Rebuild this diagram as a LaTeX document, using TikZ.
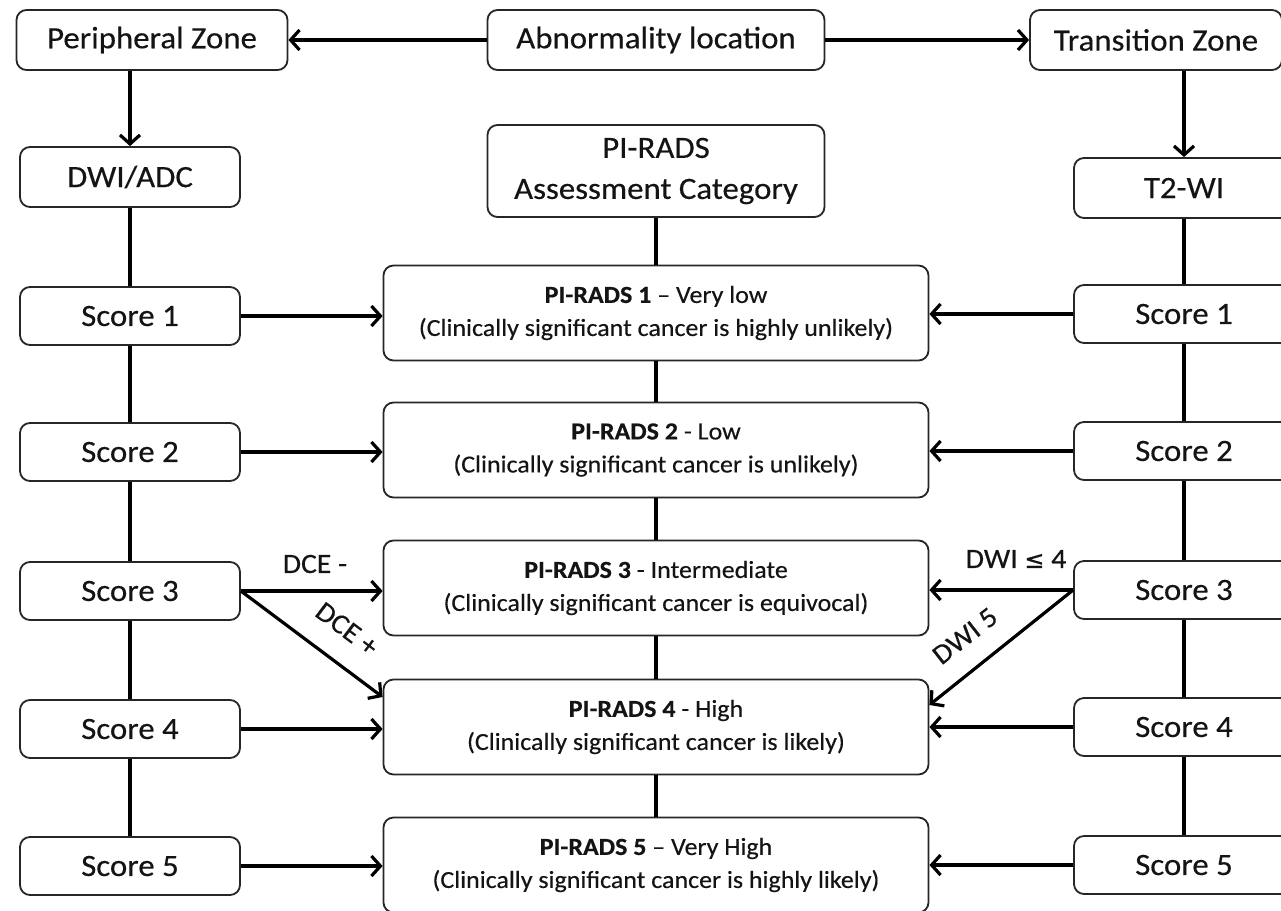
\documentclass[tikz,border=0pt]{standalone}
\usepackage{fontspec}
\setmainfont[FakeStretch=1.06,FakeBold=0.35]{Carlito}
\newfontfamily\symf[FakeBold=0.35]{DejaVu Sans}
\usetikzlibrary{arrows.meta}
\begin{document}
\begin{tikzpicture}[x=1pt,y=-1pt,
  box/.style={draw=black!85, line width=1.8pt, rounded corners=10pt, fill=white,
    inner sep=0pt, align=center, text=black!92},
  big/.style={font=\fontsize{31}{41}\selectfont},
  zone/.style={box, big, minimum height=60pt},
  score/.style={box, big, minimum width=220pt, minimum height=58pt},
  pr/.style={box, minimum width=545pt, minimum height=95pt, font=\fontsize{24.5}{33}\selectfont},
  conn/.style={line width=3.2pt, black},
  arr/.style={conn, -{Straight Barb[length=9pt,width=20pt]}},
  lbl/.style={inner sep=0pt, font=\fontsize{28}{30}\selectfont, text=black!92}]
\useasboundingbox (0,0) rectangle (1281,910);
\clip (0,0) rectangle (1281,910);
\fill[white] (0,0) rectangle (1281,910);

% top row
\node[zone, minimum width=271pt] (pz)  at (152,40)  {Peripheral Zone};
\node[zone, minimum width=337pt] (abn) at (656,40)  {Abnormality location};
\node[zone, minimum width=252pt] (tz)  at (1156,40) {Transition Zone};

% second row
\node[zone, minimum width=220pt] (dwi) at (130,177) {DWI/ADC};
\node[box, big, minimum width=337pt, minimum height=92pt] (cat) at (656,171) {PI-RADS\\Assessment Category};
\node[zone, minimum width=220pt] (t2) at (1184,188) {T2-WI};

% scores left
\node[score] (s1L) at (130,316) {Score 1};
\node[score] (s2L) at (130,452) {Score 2};
\node[score] (s3L) at (130,591) {Score 3};
\node[score] (s4L) at (130,729) {Score 4};
\node[score] (s5L) at (130,866) {Score 5};

% scores right
\node[score] (s1R) at (1184,314) {Score 1};
\node[score] (s2R) at (1184,451) {Score 2};
\node[score] (s3R) at (1184,590) {Score 3};
\node[score] (s4R) at (1184,727) {Score 4};
\node[score] (s5R) at (1184,865) {Score 5};

% PI-RADS categories
\node[pr] (p1) at (656,313) {\textbf{PI-RADS 1} – Very low\\(Clinically significant cancer is highly unlikely)};
\node[pr] (p2) at (656,450) {\textbf{PI-RADS 2} - Low\\(Clinically significant cancer is unlikely)};
\node[pr] (p3) at (656,588) {\textbf{PI-RADS 3} - Intermediate\\(Clinically significant cancer is equivocal)};
\node[pr] (p4) at (656,727) {\textbf{PI-RADS 4} - High\\(Clinically significant cancer is likely)};
\node[pr] (p5) at (656,865) {\textbf{PI-RADS 5} – Very High\\(Clinically significant cancer is highly likely)};

% top arrows
\draw[arr] (abn.west) -- (pz.east);
\draw[arr] (abn.east) -- (tz.west);
\draw[arr] (pz.south -| dwi.north) -- (dwi.north);
\draw[arr] (tz.south -| t2.north) -- (t2.north);

% vertical column lines
\foreach \a/\b in {dwi/s1L, s1L/s2L, s2L/s3L, s3L/s4L, s4L/s5L,
                   t2/s1R, s1R/s2R, s2R/s3R, s3R/s4R, s4R/s5R,
                   cat/p1, p1/p2, p2/p3, p3/p4, p4/p5}
  \draw[conn] (\a) -- (\b);

% horizontal arrows
\foreach \i in {1,2,3,4,5} {
  \draw[arr] (s\i L.east) -- (s\i L.east -| p\i.west);
  \draw[arr] (s\i R.west) -- (s\i R.west -| p\i.east);
}

% diagonal arrows
\draw[arr] (s3L.east) -- ([yshift=30pt]p4.west);
\draw[arr] (s3R.west) -- ([yshift=22pt]p4.east);

% labels
\node[lbl] (dcem) at (315,564) {DCE -};
\node[lbl, rotate=-37] (dcep) at (347,629) {DCE +};
\node[lbl] (dwil) at (1016,559) {DWI {\symf\fontsize{24}{26}\selectfont ≤} 4};
\node[lbl, rotate=38] (dwif) at (965,636) {DWI 5};
\end{tikzpicture}
\end{document}
